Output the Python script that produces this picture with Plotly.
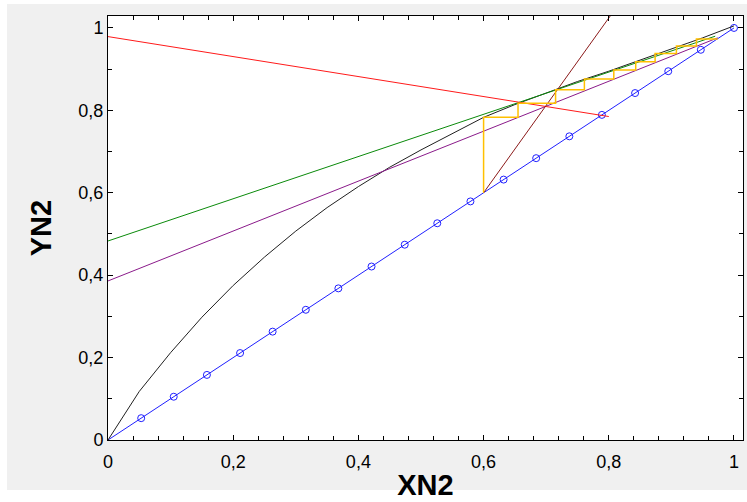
import plotly.graph_objects as go

# Diagonal y = x with markers
diag_x = [0, 0.053, 0.105, 0.158, 0.211, 0.263, 0.316, 0.368, 0.421, 0.474,
          0.526, 0.579, 0.632, 0.684, 0.737, 0.789, 0.842, 0.895, 0.947, 1.0]
diag_y = [0, 0.053, 0.105, 0.158, 0.211, 0.263, 0.316, 0.368, 0.421, 0.474,
          0.526, 0.579, 0.632, 0.684, 0.737, 0.789, 0.842, 0.895, 0.947, 1.0]

# Equilibrium curve (black)
eq_x = [0, 0.05, 0.1, 0.15, 0.2, 0.25, 0.3, 0.35, 0.4, 0.45, 0.5,
        0.55, 0.6, 0.65, 0.7, 0.75, 0.8, 0.85, 0.9, 0.95, 1.0]
eq_y = [0, 0.118, 0.212, 0.298, 0.375, 0.444, 0.507, 0.564, 0.615, 0.662, 0.704,
        0.744, 0.783, 0.814, 0.842, 0.870, 0.895, 0.922, 0.949, 0.976, 1.005]

# Operating lines
green_x = [0, 0.97]
green_y = [0.483, 0.980]
purple_x = [0, 0.974]
purple_y = [0.386, 0.976]
red_x = [0, 0.8]
red_y = [0.979, 0.785]
brown_x = [0.6, 0.84]
brown_y = [0.6, 1.109]

# Staircase (yellow)
stair_x = [0.6, 0.6, 0.655, 0.655, 0.715, 0.715, 0.761, 0.761, 0.808, 0.808,
           0.843, 0.843, 0.874, 0.874, 0.908, 0.908, 0.940, 0.940, 0.974]
stair_y = [0.6, 0.783, 0.783, 0.817, 0.817, 0.850, 0.850, 0.876, 0.876, 0.898,
           0.898, 0.918, 0.918, 0.938, 0.938, 0.956, 0.956, 0.973, 0.973]

x_ticks = [0, 0.2, 0.4, 0.6, 0.8, 1]
y_ticks = [0, 0.2, 0.4, 0.6, 0.8, 1]
tick_text = ["0", "0,2", "0,4", "0,6", "0,8", "1"]

fig = go.Figure()
fig.add_trace(go.Scatter(x=diag_x, y=diag_y, mode="lines",
                         line=dict(color="#2020ff", width=1), hoverinfo="skip"))
fig.add_trace(go.Scatter(x=diag_x[1:], y=diag_y[1:], mode="markers",
                         marker=dict(symbol="circle-open", size=7, color="#2020ff",
                                     line=dict(width=1, color="#2020ff"))))
fig.add_trace(go.Scatter(x=eq_x, y=eq_y, mode="lines", line=dict(color="#202020", width=1)))
fig.add_trace(go.Scatter(x=green_x, y=green_y, mode="lines", line=dict(color="#0a8a0a", width=1)))
fig.add_trace(go.Scatter(x=purple_x, y=purple_y, mode="lines", line=dict(color="#8a1a8a", width=1)))
fig.add_trace(go.Scatter(x=red_x, y=red_y, mode="lines", line=dict(color="#ff1a1a", width=1)))
fig.add_trace(go.Scatter(x=brown_x, y=brown_y, mode="lines", line=dict(color="#8b1a1a", width=1)))
fig.add_trace(go.Scatter(x=stair_x, y=stair_y, mode="lines", line=dict(color="#ffc000", width=1.5)))

tick_font = dict(family="Arial, Liberation Sans, sans-serif", size=18, color="black")
title_font = dict(family="Liberation Sans Narrow, Arial Narrow, Liberation Sans, sans-serif",
                  size=29, color="black", weight="bold")

fig.update_layout(
    width=747, height=502,
    margin=dict(l=108, r=4, t=16, b=62),
    paper_bgcolor="#f0f0f0", plot_bgcolor="white",
    showlegend=False, separators=", ",
    xaxis=dict(range=[0, 1.0144], tickvals=x_ticks, ticktext=tick_text,
               ticks="inside", ticklen=5, tickcolor="black", showline=True, linecolor="black",
               linewidth=1, mirror="ticks", showgrid=False, zeroline=False, tickfont=tick_font,
               ticklabelstandoff=5,
               minor=dict(dtick=0.04, tick0=0, ticks="inside", ticklen=4, tickcolor="black", showgrid=False),
               title=dict(text="XN2", font=title_font, standoff=4)),
    yaxis=dict(range=[0, 1.029], tickvals=y_ticks, ticktext=tick_text,
               ticks="inside", ticklen=5, tickcolor="black", showline=True, linecolor="black",
               linewidth=1, mirror="ticks", showgrid=False, zeroline=False, tickfont=tick_font,
               minor=dict(dtick=0.1, tick0=0, ticks="inside", ticklen=4, tickcolor="black", showgrid=False),
               title=dict(text="YN2", font=title_font, standoff=18)),
    shapes=[
        dict(type="rect", xref="paper", yref="paper", x0=-0.2, x1=(7 - 108) / 635, y0=-0.2, y1=1.1,
             fillcolor="white", line=dict(width=0), layer="above"),
        dict(type="rect", xref="paper", yref="paper", x0=-0.2, x1=1.1, y0=(440 - 4) / 424, y1=1.1,
             fillcolor="white", line=dict(width=0), layer="above"),
        dict(type="rect", xref="paper", yref="paper", x0=-0.2, x1=1.1, y0=-0.2, y1=(440 - 490) / 424,
             fillcolor="white", line=dict(width=0), layer="above"),
    ],
)

fig.write_html("out.html", config={"displayModeBar": False},
               post_script="document.body.style.margin='0';")
